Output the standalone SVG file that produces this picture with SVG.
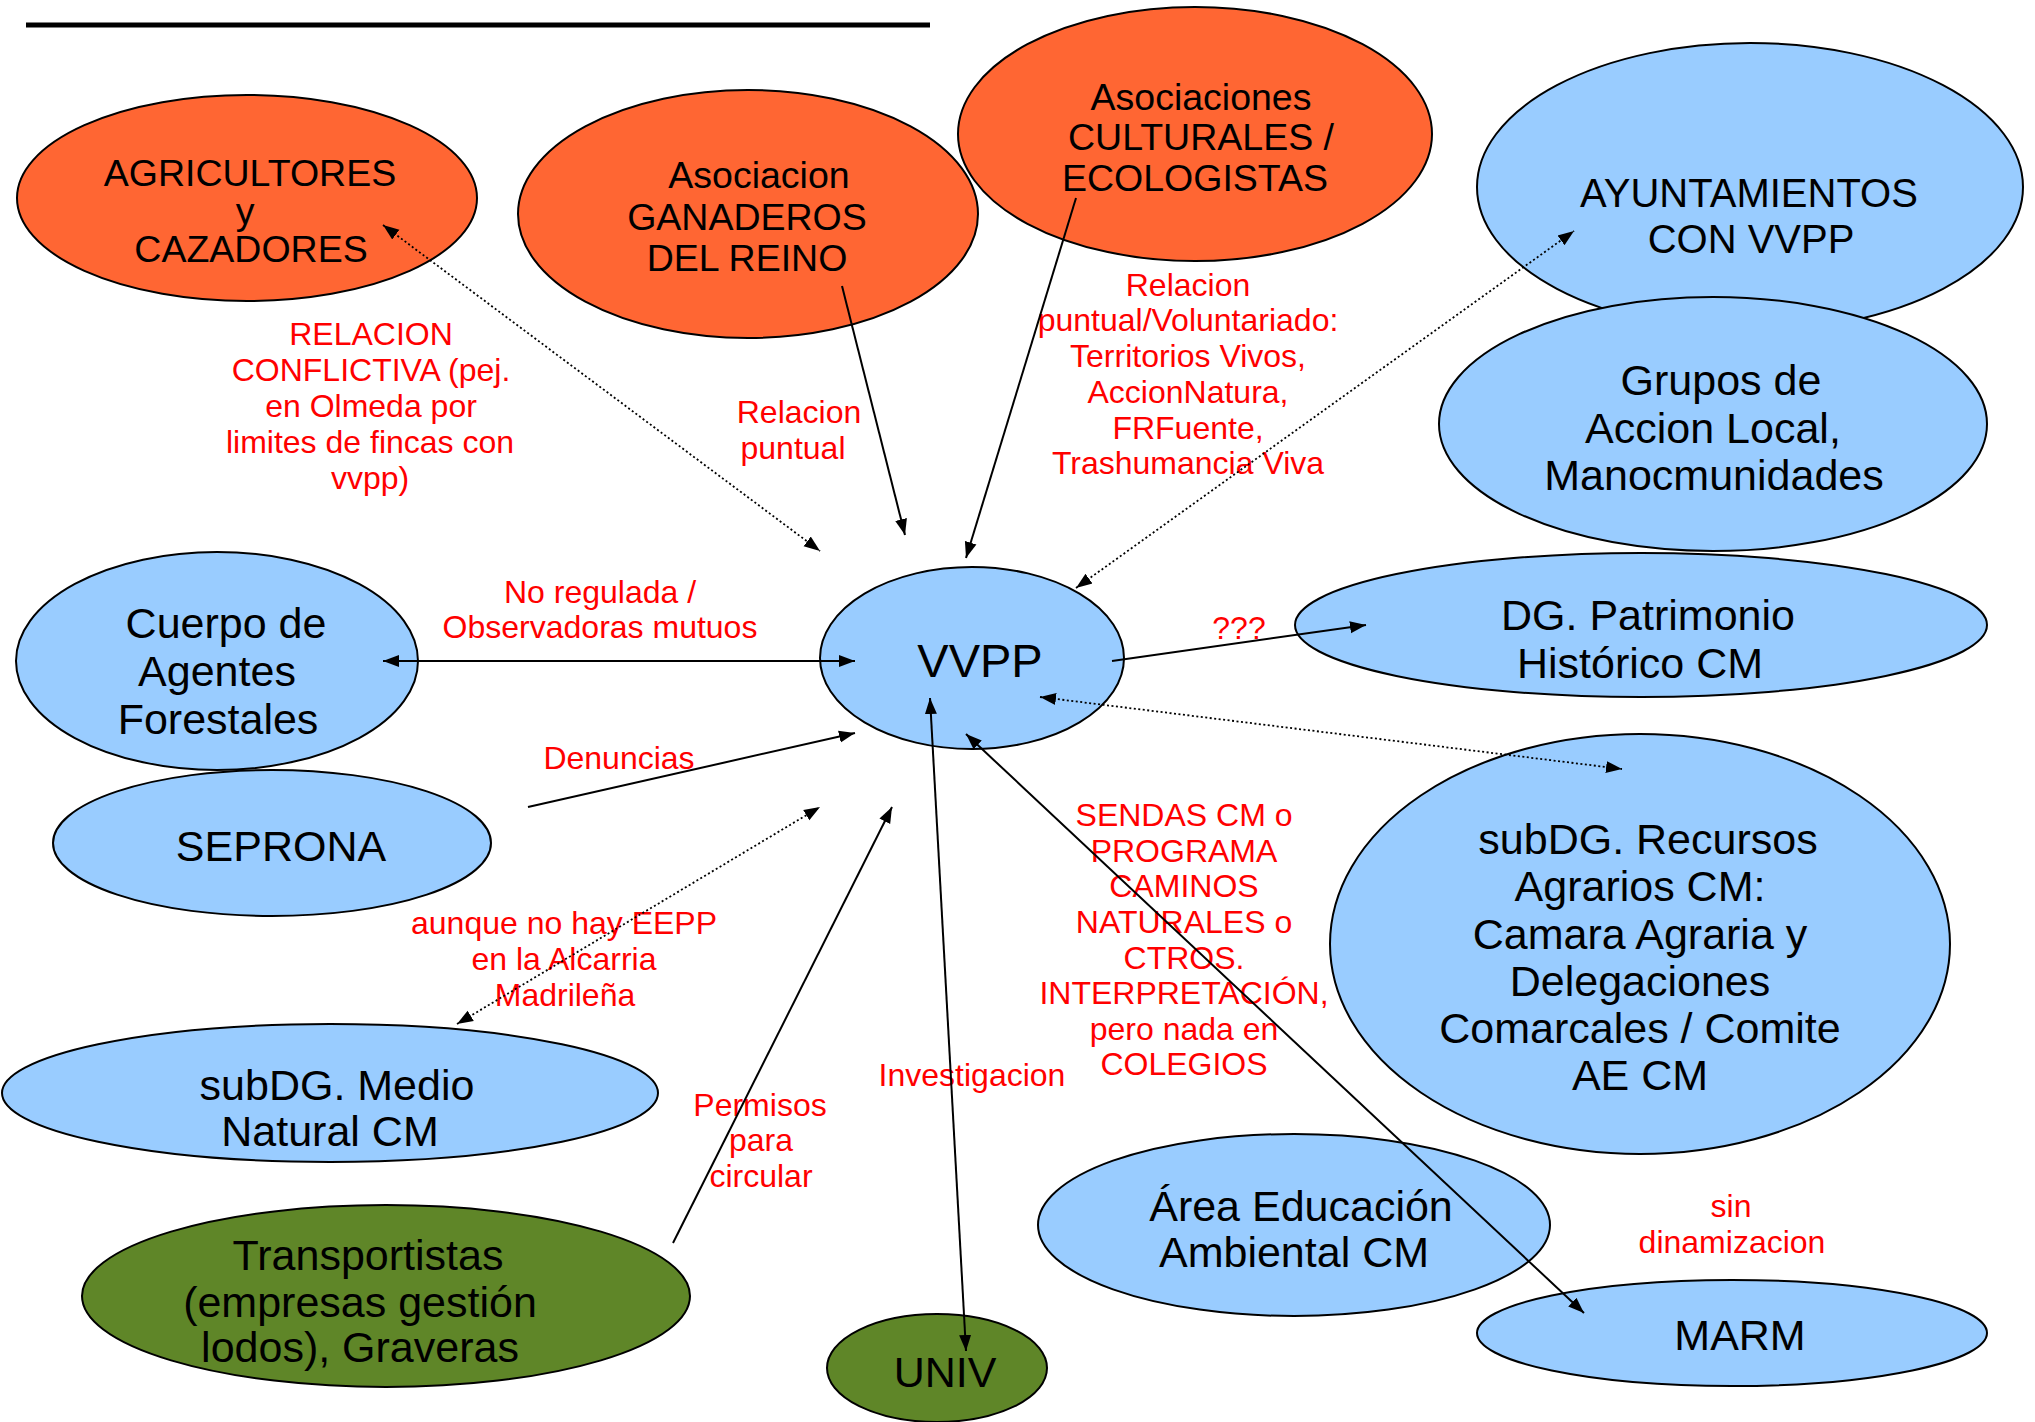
<svg xmlns="http://www.w3.org/2000/svg" width="2035" height="1422" viewBox="0 0 2035 1422">
<style>
.n{stroke:#000;stroke-width:2}
.o{fill:#ff6633}
.b{fill:#99ccff}
.g{fill:#5f8628}
.t{font-family:"Liberation Sans",Arial,sans-serif;fill:#000;text-anchor:middle}
.l{font-family:"Liberation Sans",Arial,sans-serif;fill:#ff0000;text-anchor:middle;font-size:32px}
.c{stroke:#000;stroke-width:2;fill:none}
.d{stroke:#000;stroke-width:1.8;fill:none;stroke-dasharray:2 2.5}
</style>
<defs>
<marker id="ah" markerUnits="userSpaceOnUse" markerWidth="18" markerHeight="14" refX="16" refY="6" orient="auto-start-reverse" viewBox="0 0 18 12">
<path d="M0,0 L16,6 L0,12 Z" fill="#000"/>
</marker>
</defs>
<rect width="2035" height="1422" fill="#fff"/>
<line x1="26" y1="25" x2="930" y2="25" stroke="#000" stroke-width="5"/>

<g id="agricultores">
<ellipse class="n o" cx="247" cy="198" rx="230" ry="103"/>
<text class="t" font-size="37.5"><tspan x="250" y="186">AGRICULTORES</tspan><tspan x="245" y="224">y</tspan><tspan x="251" y="262">CAZADORES</tspan></text>
</g>
<g id="ganaderos">
<ellipse class="n o" cx="748" cy="214" rx="230" ry="124"/>
<text class="t" font-size="37.5"><tspan x="759" y="188">Asociacion</tspan><tspan x="747" y="230">GANADEROS</tspan><tspan x="747" y="271">DEL REINO</tspan></text>
</g>
<g id="culturales">
<ellipse class="n o" cx="1195" cy="134" rx="237" ry="127"/>
<text class="t" font-size="37.5"><tspan x="1201" y="110">Asociaciones</tspan><tspan x="1201" y="150">CULTURALES /</tspan><tspan x="1195" y="191">ECOLOGISTAS</tspan></text>
</g>
<g id="ayuntamientos">
<ellipse class="n b" cx="1750" cy="187" rx="273" ry="144"/>
<text class="t" font-size="40"><tspan x="1749" y="207">AYUNTAMIENTOS</tspan><tspan x="1751" y="253">CON VVPP</tspan></text>
</g>
<g id="grupos">
<ellipse class="n b" cx="1713" cy="424" rx="274" ry="127"/>
<text class="t" font-size="43"><tspan x="1721" y="395">Grupos de</tspan><tspan x="1713" y="443">Accion Local,</tspan><tspan x="1714" y="490">Manocmunidades</tspan></text>
</g>
<g id="vvpp">
<ellipse class="n b" cx="972" cy="658" rx="152" ry="91"/>
<text class="t" font-size="47" x="980" y="677">VVPP</text>
</g>
<g id="dgpatrimonio">
<ellipse class="n b" cx="1641" cy="625" rx="346" ry="72"/>
<text class="t" font-size="43"><tspan x="1648" y="630">DG. Patrimonio</tspan><tspan x="1640" y="678">Histórico CM</tspan></text>
</g>
<g id="cuerpo">
<ellipse class="n b" cx="217" cy="661" rx="201" ry="109"/>
<text class="t" font-size="43"><tspan x="226" y="638">Cuerpo de</tspan><tspan x="217" y="686">Agentes</tspan><tspan x="218" y="734">Forestales</tspan></text>
</g>
<g id="seprona">
<ellipse class="n b" cx="272" cy="843" rx="219" ry="73"/>
<text class="t" font-size="43" x="281" y="861">SEPRONA</text>
</g>
<g id="subdgmedio">
<ellipse class="n b" cx="330" cy="1093" rx="328" ry="69"/>
<text class="t" font-size="43"><tspan x="337" y="1100">subDG. Medio</tspan><tspan x="330" y="1146">Natural CM</tspan></text>
</g>
<g id="transportistas">
<ellipse class="n g" cx="386" cy="1296" rx="304" ry="91"/>
<text class="t" font-size="43"><tspan x="368" y="1270">Transportistas</tspan><tspan x="360" y="1317">(empresas gestión</tspan><tspan x="360" y="1362">lodos), Graveras</tspan></text>
</g>
<g id="univ">
<ellipse class="n g" cx="937" cy="1368" rx="110" ry="54"/>
<text class="t" font-size="43" x="945" y="1387">UNIV</text>
</g>
<g id="subdgrecursos">
<ellipse class="n b" cx="1640" cy="944" rx="310" ry="210"/>
<text class="t" font-size="43"><tspan x="1648" y="854">subDG. Recursos</tspan><tspan x="1640" y="901">Agrarios CM:</tspan><tspan x="1640" y="949">Camara Agraria y</tspan><tspan x="1640" y="996">Delegaciones</tspan><tspan x="1640" y="1043">Comarcales / Comite</tspan><tspan x="1640" y="1090">AE CM</tspan></text>
</g>
<g id="areaeducacion">
<ellipse class="n b" cx="1294" cy="1225" rx="256" ry="91"/>
<text class="t" font-size="43"><tspan x="1301" y="1221">Área Educación</tspan><tspan x="1294" y="1267">Ambiental CM</tspan></text>
</g>
<g id="marm">
<ellipse class="n b" cx="1732" cy="1333" rx="255" ry="53"/>
<text class="t" font-size="43" x="1740" y="1350">MARM</text>
</g>

<g id="labels">
<text class="l"><tspan x="371" y="345">RELACION</tspan><tspan x="371" y="381">CONFLICTIVA (pej.</tspan><tspan x="371" y="417">en Olmeda por</tspan><tspan x="370" y="453">limites de fincas con</tspan><tspan x="370" y="489">vvpp)</tspan></text>
<text class="l"><tspan x="799" y="423">Relacion</tspan><tspan x="793" y="459">puntual</tspan></text>
<text class="l"><tspan x="1188" y="296">Relacion</tspan><tspan x="1188" y="331">puntual/Voluntariado:</tspan><tspan x="1188" y="367">Territorios Vivos,</tspan><tspan x="1188" y="403">AccionNatura,</tspan><tspan x="1188" y="439">FRFuente,</tspan><tspan x="1188" y="474">Trashumancia Viva</tspan></text>
<text class="l"><tspan x="600" y="603">No regulada /</tspan><tspan x="600" y="638">Observadoras mutuos</tspan></text>
<text class="l" x="619" y="769">Denuncias</text>
<text class="l"><tspan x="564" y="934">aunque no hay EEPP</tspan><tspan x="564" y="970">en la Alcarria</tspan><tspan x="565" y="1006">Madrileña</tspan></text>
<text class="l" x="1239" y="639">???</text>
<text class="l"><tspan x="1184" y="826">SENDAS CM o</tspan><tspan x="1184" y="862">PROGRAMA</tspan><tspan x="1184" y="897">CAMINOS</tspan><tspan x="1184" y="933">NATURALES o</tspan><tspan x="1184" y="969">CTROS.</tspan><tspan x="1184" y="1004">INTERPRETACIÓN,</tspan><tspan x="1184" y="1040">pero nada en</tspan><tspan x="1184" y="1075">COLEGIOS</tspan></text>
<text class="l" x="972" y="1086">Investigacion</text>
<text class="l"><tspan x="760" y="1116">Permisos</tspan><tspan x="761" y="1151">para</tspan><tspan x="761" y="1187">circular</tspan></text>
<text class="l"><tspan x="1731" y="1217">sin</tspan><tspan x="1732" y="1253">dinamizacion</tspan></text>
</g>

<g id="connectors">
<line class="d" x1="383" y1="225" x2="820" y2="551" marker-start="url(#ah)" marker-end="url(#ah)"/>
<line class="c" x1="842" y1="286" x2="905" y2="535" marker-end="url(#ah)"/>
<line class="c" x1="1076" y1="198" x2="966" y2="558" marker-end="url(#ah)"/>
<line class="d" x1="1076" y1="588" x2="1574" y2="231" marker-start="url(#ah)" marker-end="url(#ah)"/>
<line class="c" x1="383" y1="661" x2="855" y2="661" marker-start="url(#ah)" marker-end="url(#ah)"/>
<line class="c" x1="528" y1="807" x2="855" y2="733" marker-end="url(#ah)"/>
<line class="d" x1="457" y1="1024" x2="820" y2="807" marker-start="url(#ah)" marker-end="url(#ah)"/>
<line class="c" x1="673" y1="1243" x2="892" y2="807" marker-end="url(#ah)"/>
<line class="c" x1="930" y1="698" x2="966" y2="1351" marker-start="url(#ah)" marker-end="url(#ah)"/>
<line class="c" x1="966" y1="734" x2="1584" y2="1313" marker-start="url(#ah)" marker-end="url(#ah)"/>
<line class="c" x1="1112" y1="661" x2="1366" y2="625" marker-end="url(#ah)"/>
<line class="d" x1="1040" y1="697" x2="1622" y2="769" marker-start="url(#ah)" marker-end="url(#ah)"/>
</g>
</svg>
